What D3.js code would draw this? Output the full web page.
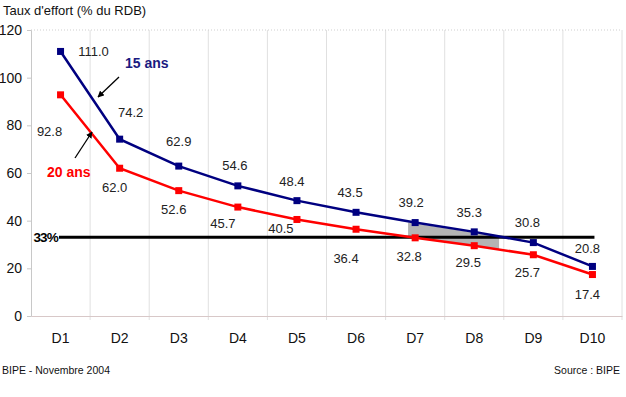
<!DOCTYPE html>
<html>
<head>
<meta charset="utf-8">
<script src="https://cdn.jsdelivr.net/npm/d3@7"></script>
<style>
  body { margin: 0; background: #fff; }
  svg { font-family: "Liberation Sans", Arial, sans-serif; }
</style>
</head>
<body>
<svg id="chart" width="626" height="397"></svg>
<script>
// deciles and the two loan durations
var categories = ["D1", "D2", "D3", "D4", "D5", "D6", "D7", "D8", "D9", "D10"];
var ans15 = [111.0, 74.2, 62.9, 54.6, 48.4, 43.5, 39.2, 35.3, 30.8, 20.8];
var ans20 = [92.8, 62.0, 52.6, 45.7, 40.5, 36.4, 32.8, 29.5, 25.7, 17.4];
var yTicks = [0, 20, 40, 60, 80, 100, 120];
var threshold = 33;

// label offsets (px) for the value labels
var off15 = [[33, 0], [11, -27], [0, -25], [-3, -20], [-5, -19], [-6, -20], [-4, -20], [-5, -19], [-6, -20], [-5, -18]];
var off20 = [[-11, 37], [-5, 19], [-5, 19], [-15, 16], [-16, 9], [-10, 29], [-6, 19], [-6, 17], [-6, 18], [-5, 20]];

var svg = d3.select("#chart");

var x = d3.scaleBand()
    .domain(categories)
    .range([31, 622]);
var y = d3.scaleLinear()
    .domain([0, 120])
    .range([316, 30]);
var cx = function(i) { return x(categories[i]) + x.bandwidth() / 2; };

// vertical grid lines between categories
var bounds = d3.range(1, categories.length + 1).map(function(i) { return 31 + i * x.step(); });
svg.append("g").selectAll("line")
    .data(bounds)
    .join("line")
    .attr("x1", function(d) { return d; })
    .attr("x2", function(d) { return d; })
    .attr("y1", y(120))
    .attr("y2", y(0) + 4)
    .attr("stroke", "#e0e0e0")
    .attr("stroke-width", 1);

// top border, dotted
svg.append("line")
    .attr("x1", 31).attr("x2", 622)
    .attr("y1", y(120)).attr("y2", y(120))
    .attr("stroke", "#cfcfcf")
    .attr("stroke-dasharray", "1,2");

// y axis
var yAxis = svg.append("g")
    .attr("transform", "translate(31,0)")
    .call(d3.axisLeft(y).tickValues(yTicks).tickSize(4).tickPadding(5));
yAxis.select(".domain").attr("stroke", "#c8c8c8");
yAxis.selectAll(".tick line").attr("stroke", "#c8c8c8");
yAxis.selectAll("text").attr("font-size", 14).attr("fill", "#111")
    .attr("font-family", "Liberation Sans, Arial, sans-serif");

// x axis
var xAxis = svg.append("g")
    .attr("transform", "translate(0," + y(0) + ")")
    .call(d3.axisBottom(x).tickSize(0).tickPadding(17));
xAxis.select(".domain").attr("stroke", "#d8c8c8");
xAxis.selectAll("text").attr("font-size", 14).attr("fill", "#111")
    .attr("font-family", "Liberation Sans, Arial, sans-serif");

// shaded zone between the curves, D7 to past D8
function interp(arr, t) {
    var i = Math.floor(t), f = t - i;
    if (i >= arr.length - 1) return arr[arr.length - 1];
    return arr[i] + (arr[i + 1] - arr[i]) * f;
}
var shadeFrom = 5.88, shadeTo = 7.42;
var tx = function(t) { return 31 + (t + 0.5) * x.step(); };
var shadePts = [
    [shadeFrom, Math.min(interp(ans15, shadeFrom), 39.2)],
    [shadeTo, interp(ans15, shadeTo)],
    [shadeTo, interp(ans20, shadeTo)],
    [shadeFrom, interp(ans20, shadeFrom)]
];
svg.append("path")
    .attr("d", d3.line().x(function(d) { return tx(d[0]); }).y(function(d) { return y(d[1]); })(shadePts) + "Z")
    .attr("fill", "#b4b4b4");

// 33% threshold line
svg.append("line")
    .attr("x1", 59).attr("x2", cx(9) + 2)
    .attr("y1", y(threshold)).attr("y2", y(threshold))
    .attr("stroke", "#000")
    .attr("stroke-width", 3);
svg.append("text")
    .attr("x", 58).attr("y", y(threshold) + 5)
    .attr("text-anchor", "end")
    .attr("font-size", 13.5).attr("font-weight", "bold")
    .attr("letter-spacing", -0.8)
    .text("33%");

function drawSeries(values, color, offs) {
    var line = d3.line()
        .x(function(d, i) { return cx(i); })
        .y(function(d) { return y(d); });
    svg.append("path")
        .datum(values)
        .attr("d", line)
        .attr("fill", "none")
        .attr("stroke", color)
        .attr("stroke-width", 2.5);
    svg.append("g").selectAll("rect")
        .data(values)
        .join("rect")
        .attr("x", function(d, i) { return cx(i) - 3.5; })
        .attr("y", function(d) { return y(d) - 3.5; })
        .attr("width", 7)
        .attr("height", 7)
        .attr("fill", color);
    svg.append("g").selectAll("text")
        .data(values)
        .join("text")
        .attr("x", function(d, i) { return cx(i) + offs[i][0]; })
        .attr("y", function(d, i) { return y(d) + offs[i][1]; })
        .attr("text-anchor", "middle")
        .attr("dy", "0.35em")
        .attr("font-size", 13)
        .attr("fill", "#222")
        .text(function(d) { return d.toFixed(1); });
}

drawSeries(ans20, "#ff0000", off20);
drawSeries(ans15, "#000080", off15);

// series annotations with arrows
svg.append("defs").append("marker")
    .attr("id", "arrow")
    .attr("viewBox", "0 0 10 10")
    .attr("refX", 9).attr("refY", 5)
    .attr("markerWidth", 5).attr("markerHeight", 5)
    .attr("orient", "auto")
    .append("path")
    .attr("d", "M0,0 L10,5 L0,10 Z")
    .attr("fill", "#000");

svg.append("line")
    .attr("x1", 119).attr("y1", 77).attr("x2", 98).attr("y2", 97)
    .attr("stroke", "#000").attr("stroke-width", 1.3)
    .attr("marker-end", "url(#arrow)");
svg.append("line")
    .attr("x1", 75).attr("y1", 158).attr("x2", 92).attr("y2", 132)
    .attr("stroke", "#000").attr("stroke-width", 1.3)
    .attr("marker-end", "url(#arrow)");

svg.append("text")
    .attr("x", 125).attr("y", 68)
    .attr("font-size", 14).attr("font-weight", "bold")
    .attr("fill", "#1a1a80")
    .text("15 ans");
svg.append("text")
    .attr("x", 47).attr("y", 177)
    .attr("font-size", 14).attr("font-weight", "bold")
    .attr("fill", "#ff0000")
    .text("20 ans");

// title and footers
svg.append("text")
    .attr("x", 3).attr("y", 15)
    .attr("font-size", 13)
    .attr("fill", "#111")
    .text("Taux d'effort (% du RDB)");
svg.append("text")
    .attr("x", 2).attr("y", 374)
    .attr("font-size", 10.5)
    .attr("fill", "#111")
    .text("BIPE - Novembre 2004");
svg.append("text")
    .attr("x", 620).attr("y", 374)
    .attr("text-anchor", "end")
    .attr("font-size", 10.5)
    .attr("fill", "#111")
    .text("Source : BIPE");
</script>
</body>
</html>
